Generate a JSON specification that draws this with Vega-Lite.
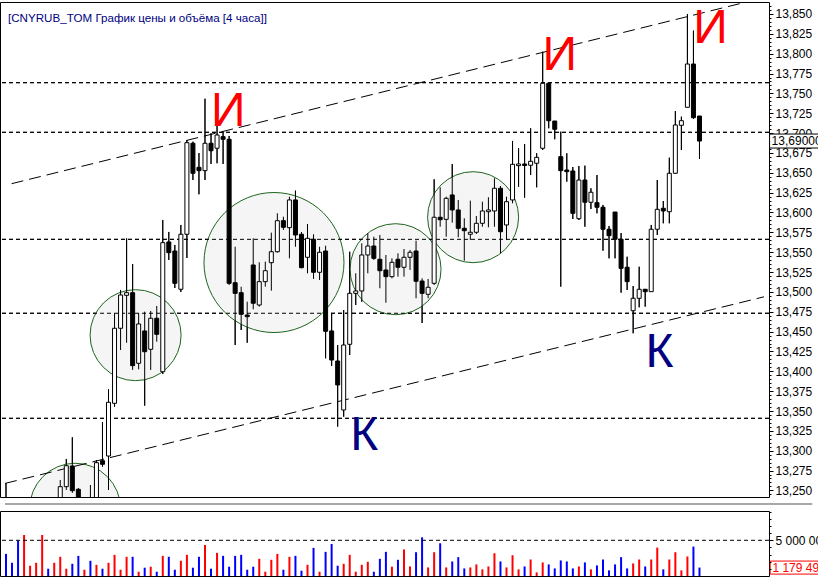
{
  "$schema": "https://vega.github.io/schema/vega-lite/v6.json",
  "autosize": {"type": "none"},
  "padding": {"left": 0, "top": 2, "right": 818, "bottom": 580},
  "background": "white",
  "config": {
    "locale": {"number": {"decimal": ",", "thousands": " ", "grouping": [3], "currency": ["", ""]}},
    "view": {"stroke": "black", "strokeWidth": 1},
    "axis": {"labelFont": "Liberation Sans", "labelFontSize": 12, "labelColor": "black", "tickColor": "black", "domain": false, "grid": false, "labelOverlap": false}
  },
  "datasets": {
    "candles": [
      {"i":0,"o":13.236,"h":13.259,"l":13.215,"c":13.222,"v":3100000},
      {"i":1,"o":13.225,"h":13.238,"l":13.205,"c":13.212,"v":1850000},
      {"i":2,"o":13.214,"h":13.230,"l":13.195,"c":13.200,"v":4950000},
      {"i":3,"o":13.200,"h":13.222,"l":13.192,"c":13.215,"v":5740000},
      {"i":4,"o":13.215,"h":13.232,"l":13.208,"c":13.222,"v":1440000},
      {"i":5,"o":13.222,"h":13.236,"l":13.212,"c":13.230,"v":1850000},
      {"i":6,"o":13.230,"h":13.240,"l":13.220,"c":13.236,"v":5740000},
      {"i":7,"o":13.236,"h":13.240,"l":13.215,"c":13.222,"v":1020000},
      {"i":8,"o":13.222,"h":13.238,"l":13.215,"c":13.234,"v":1850000},
      {"i":9,"o":13.236,"h":13.2631,"l":13.228,"c":13.2547,"v":2690000},
      {"i":10,"o":13.2547,"h":13.2896,"l":13.2505,"c":13.2811,"v":1020000},
      {"i":11,"o":13.2808,"h":13.3169,"l":13.2468,"c":13.2496,"v":1710000},
      {"i":12,"o":13.2514,"h":13.2531,"l":13.225,"c":13.232,"v":2820000},
      {"i":13,"o":13.228,"h":13.240,"l":13.222,"c":13.238,"v":880000},
      {"i":14,"o":13.238,"h":13.2568,"l":13.225,"c":13.232,"v":2130000},
      {"i":15,"o":13.232,"h":13.2883,"l":13.228,"c":13.2849,"v":1570000},
      {"i":16,"o":13.2874,"h":13.3362,"l":13.2799,"c":13.2829,"v":1020000},
      {"i":17,"o":13.2933,"h":13.3773,"l":13.2505,"c":13.3610,"v":1850000},
      {"i":18,"o":13.3597,"h":13.4731,"l":13.3554,"c":13.4542,"v":2960000},
      {"i":19,"o":13.4542,"h":13.5024,"l":13.4268,"c":13.4961,"v":880000},
      {"i":20,"o":13.4957,"h":13.5675,"l":13.4360,"c":13.4990,"v":2690000},
      {"i":21,"o":13.4990,"h":13.5351,"l":13.4017,"c":13.4071,"v":2690000},
      {"i":22,"o":13.4101,"h":13.4731,"l":13.4025,"c":13.4596,"v":600000},
      {"i":23,"o":13.4508,"h":13.4751,"l":13.3567,"c":13.4247,"v":1160000},
      {"i":24,"o":13.4277,"h":13.4760,"l":13.4017,"c":13.4668,"v":1300000},
      {"i":25,"o":13.4668,"h":13.4823,"l":13.4373,"c":13.4466,"v":600000},
      {"i":26,"o":13.3995,"h":13.5906,"l":13.3966,"c":13.5620,"v":2820000},
      {"i":27,"o":13.5629,"h":13.5755,"l":13.5402,"c":13.5494,"v":2690000},
      {"i":28,"o":13.5515,"h":13.5591,"l":13.5049,"c":13.5108,"v":880000},
      {"i":29,"o":13.5033,"h":13.5843,"l":13.4999,"c":13.5726,"v":2130000},
      {"i":30,"o":13.5726,"h":13.6913,"l":13.5427,"c":13.6879,"v":2960000},
      {"i":31,"o":13.6872,"h":13.6892,"l":13.6409,"c":13.6494,"v":1160000},
      {"i":32,"o":13.6569,"h":13.6749,"l":13.6229,"c":13.6527,"v":2690000},
      {"i":33,"o":13.6527,"h":13.7433,"l":13.6409,"c":13.6872,"v":4350000},
      {"i":34,"o":13.6872,"h":13.6998,"l":13.6611,"c":13.6778,"v":1020000},
      {"i":35,"o":13.6809,"h":13.7089,"l":13.6620,"c":13.6976,"v":3240000},
      {"i":36,"o":13.6955,"h":13.7018,"l":13.6611,"c":13.6922,"v":2820000},
      {"i":37,"o":13.6922,"h":13.6964,"l":13.5087,"c":13.5108,"v":1300000},
      {"i":38,"o":13.5116,"h":13.5569,"l":13.4331,"c":13.4982,"v":2820000},
      {"i":39,"o":13.4990,"h":13.5066,"l":13.4520,"c":13.4718,"v":2960000},
      {"i":40,"o":13.4709,"h":13.4877,"l":13.4360,"c":13.4688,"v":880000},
      {"i":41,"o":13.5339,"h":13.5675,"l":13.4781,"c":13.4857,"v":1300000},
      {"i":42,"o":13.4835,"h":13.5373,"l":13.4814,"c":13.5129,"v":2410000},
      {"i":43,"o":13.5129,"h":13.5381,"l":13.5066,"c":13.5267,"v":600000},
      {"i":44,"o":13.5368,"h":13.5746,"l":13.5015,"c":13.5506,"v":2270000},
      {"i":45,"o":13.5506,"h":13.5990,"l":13.5494,"c":13.5897,"v":3100000},
      {"i":46,"o":13.5897,"h":13.5947,"l":13.5780,"c":13.5814,"v":880000},
      {"i":47,"o":13.5809,"h":13.6199,"l":13.5423,"c":13.6158,"v":2690000},
      {"i":48,"o":13.6158,"h":13.6275,"l":13.5569,"c":13.5717,"v":2820000},
      {"i":49,"o":13.5726,"h":13.5755,"l":13.5297,"c":13.5305,"v":740000},
      {"i":50,"o":13.5436,"h":13.5855,"l":13.5234,"c":13.5675,"v":1570000},
      {"i":51,"o":13.5663,"h":13.5726,"l":13.5163,"c":13.5247,"v":3940000},
      {"i":52,"o":13.5247,"h":13.5569,"l":13.5150,"c":13.5499,"v":600000},
      {"i":53,"o":13.5515,"h":13.5582,"l":13.4164,"c":13.4504,"v":3380000},
      {"i":54,"o":13.4508,"h":13.4731,"l":13.4067,"c":13.4142,"v":4490000},
      {"i":55,"o":13.4130,"h":13.4331,"l":13.3303,"c":13.3828,"v":1440000},
      {"i":56,"o":13.3513,"h":13.4772,"l":13.3428,"c":13.4331,"v":1710000},
      {"i":57,"o":13.4340,"h":13.5506,"l":13.4205,"c":13.4982,"v":2960000},
      {"i":58,"o":13.4982,"h":13.5234,"l":13.4835,"c":13.5012,"v":600000},
      {"i":59,"o":13.5012,"h":13.5612,"l":13.4877,"c":13.5465,"v":1570000},
      {"i":60,"o":13.5465,"h":13.5738,"l":13.5234,"c":13.5578,"v":1990000},
      {"i":61,"o":13.5578,"h":13.5695,"l":13.5402,"c":13.5423,"v":600000},
      {"i":62,"o":13.5411,"h":13.5717,"l":13.5046,"c":13.5267,"v":2410000},
      {"i":63,"o":13.5276,"h":13.5465,"l":13.4864,"c":13.5192,"v":3380000},
      {"i":64,"o":13.5192,"h":13.5423,"l":13.5171,"c":13.5373,"v":1300000},
      {"i":65,"o":13.5411,"h":13.5486,"l":13.5192,"c":13.5310,"v":2270000},
      {"i":66,"o":13.5310,"h":13.5540,"l":13.5192,"c":13.5436,"v":3720000},
      {"i":67,"o":13.5436,"h":13.5528,"l":13.5276,"c":13.5499,"v":1340000},
      {"i":68,"o":13.5515,"h":13.5645,"l":13.4920,"c":13.5134,"v":3330000},
      {"i":69,"o":13.5137,"h":13.5171,"l":13.4608,"c":13.4982,"v":5420000},
      {"i":70,"o":13.4970,"h":13.5163,"l":13.4920,"c":13.5058,"v":1200000},
      {"i":71,"o":13.5108,"h":13.6418,"l":13.5087,"c":13.5940,"v":3330000},
      {"i":72,"o":13.5940,"h":13.6317,"l":13.5821,"c":13.5909,"v":4580000},
      {"i":73,"o":13.5914,"h":13.6199,"l":13.5695,"c":13.6179,"v":1200000},
      {"i":74,"o":13.6221,"h":13.6611,"l":13.5872,"c":13.6032,"v":2040000},
      {"i":75,"o":13.6032,"h":13.6158,"l":13.5688,"c":13.5801,"v":2640000},
      {"i":76,"o":13.5801,"h":13.5927,"l":13.5393,"c":13.5771,"v":1060000},
      {"i":77,"o":13.5726,"h":13.6149,"l":13.5654,"c":13.5751,"v":1200000},
      {"i":78,"o":13.5751,"h":13.5956,"l":13.5729,"c":13.5864,"v":1620000},
      {"i":79,"o":13.5864,"h":13.6136,"l":13.5821,"c":13.6019,"v":930000},
      {"i":80,"o":13.6010,"h":13.6192,"l":13.5814,"c":13.6032,"v":1340000},
      {"i":81,"o":13.6019,"h":13.6431,"l":13.5821,"c":13.6305,"v":3190000},
      {"i":82,"o":13.6305,"h":13.6334,"l":13.5486,"c":13.5758,"v":2040000},
      {"i":83,"o":13.5843,"h":13.6199,"l":13.5654,"c":13.6136,"v":1200000},
      {"i":84,"o":13.6158,"h":13.6901,"l":13.6116,"c":13.6607,"v":2920000},
      {"i":85,"o":13.6590,"h":13.6809,"l":13.6325,"c":13.6611,"v":930000},
      {"i":86,"o":13.6611,"h":13.6863,"l":13.6187,"c":13.6592,"v":1340000},
      {"i":87,"o":13.6595,"h":13.7061,"l":13.6472,"c":13.6645,"v":2310000},
      {"i":88,"o":13.6620,"h":13.6746,"l":13.6317,"c":13.6695,"v":510000},
      {"i":89,"o":13.6809,"h":13.8025,"l":13.6787,"c":13.7627,"v":1900000},
      {"i":90,"o":13.7627,"h":13.7627,"l":13.7061,"c":13.7156,"v":1620000},
      {"i":91,"o":13.7152,"h":13.7152,"l":13.6922,"c":13.7048,"v":1060000},
      {"i":92,"o":13.6703,"h":13.7018,"l":13.5066,"c":13.6527,"v":2180000},
      {"i":93,"o":13.6535,"h":13.6746,"l":13.6388,"c":13.6514,"v":2040000},
      {"i":94,"o":13.6523,"h":13.6573,"l":13.5918,"c":13.5990,"v":1060000},
      {"i":95,"o":13.5922,"h":13.6586,"l":13.5906,"c":13.6409,"v":1340000},
      {"i":96,"o":13.6409,"h":13.6590,"l":13.5821,"c":13.6129,"v":1900000},
      {"i":97,"o":13.6129,"h":13.6305,"l":13.6044,"c":13.6255,"v":930000},
      {"i":98,"o":13.6124,"h":13.6472,"l":13.5990,"c":13.6066,"v":1480000},
      {"i":99,"o":13.6066,"h":13.6095,"l":13.5519,"c":13.5789,"v":2310000},
      {"i":100,"o":13.5789,"h":13.5830,"l":13.5423,"c":13.5708,"v":790000},
      {"i":101,"o":13.6006,"h":13.6006,"l":13.5423,"c":13.5663,"v":1620000},
      {"i":102,"o":13.5663,"h":13.5742,"l":13.4990,"c":13.5297,"v":2640000},
      {"i":103,"o":13.5310,"h":13.5443,"l":13.5024,"c":13.5129,"v":1060000},
      {"i":104,"o":13.4763,"h":13.5074,"l":13.4479,"c":13.4920,"v":1760000},
      {"i":105,"o":13.4920,"h":13.5317,"l":13.4806,"c":13.5033,"v":2310000},
      {"i":106,"o":13.5033,"h":13.5037,"l":13.4814,"c":13.5003,"v":1340000},
      {"i":107,"o":13.5003,"h":13.5843,"l":13.5003,"c":13.5789,"v":2310000},
      {"i":108,"o":13.5789,"h":13.6409,"l":13.5717,"c":13.6040,"v":3980000},
      {"i":109,"o":13.6053,"h":13.6145,"l":13.5864,"c":13.6019,"v":930000},
      {"i":110,"o":13.6010,"h":13.6690,"l":13.5864,"c":13.6494,"v":2310000},
      {"i":111,"o":13.6494,"h":13.7278,"l":13.6485,"c":13.7102,"v":3330000},
      {"i":112,"o":13.7098,"h":13.7207,"l":13.6787,"c":13.7156,"v":790000},
      {"i":113,"o":13.7325,"h":13.8500,"l":13.7325,"c":13.7870,"v":2730000},
      {"i":114,"o":13.7870,"h":13.8290,"l":13.7178,"c":13.7194,"v":4120000},
      {"i":115,"o":13.7215,"h":13.7215,"l":13.6674,"c":13.6900,"v":1179490}
    ],
    "channels": [
      {"line":"u","i":0.933,"p":13.6363},
      {"line":"u","i":122.8,"p":13.8651},
      {"line":"l","i":-0.164,"p":13.2588},
      {"line":"l","i":125.7,"p":13.4938}
    ],
    "circles": [
      {"i":11.46,"p":13.2269,"k":"s"},
      {"i":21.49,"p":13.4455,"k":"s"},
      {"i":44.44,"p":13.5370,"k":"b"},
      {"i":64.60,"p":13.5286,"k":"s"},
      {"i":77.46,"p":13.5941,"k":"s"}
    ],
    "letters": [
      {"i":36.86,"p":13.7089,"t":"И"},
      {"i":91.85,"p":13.7795,"t":"И"},
      {"i":116.82,"p":13.8131,"t":"И"},
      {"i":59.41,"p":13.3009,"t":"К"},
      {"i":108.35,"p":13.4054,"t":"К"}
    ],
    "grids": [
      {"p":13.7635},{"p":13.7010},{"p":13.5662},{"p":13.4731},{"p":13.3408}
    ],
    "one": [{"k": 1}]
  },
  "spacing": 14,
  "bounds": "flush",
  "vconcat": [
    {
      "width": 769,
      "height": 495,
      "title": {
        "text": "[CNYRUB_TOM График цены и объёма [4 часа]]",
        "anchor": "start", "frame": "group", "orient": "top",
        "offset": -32, "dx": 8, "baseline": "alphabetic",
        "font": "Liberation Sans", "fontSize": 11.6, "fontWeight": "normal", "color": "#000080"
      },
      "resolve": {"axis": {"y": "independent"}},
      "layer": [
        {
          "data": {"name": "candles"},
          "mark": {"type": "rule", "color": "black", "strokeWidth": 1, "clip": true},
          "encoding": {
            "x": {"field": "i", "type": "quantitative", "scale": {"domain": [-0.164, 125.7], "nice": false, "zero": false}, "axis": null},
            "y": {
              "field": "l", "type": "quantitative", "title": null,
              "scale": {"domain": [13.2417, 13.8651], "nice": false, "zero": false},
              "axis": {
                "orient": "right",
                "zindex": 0,
                "values": [13.25,13.275,13.3,13.325,13.35,13.375,13.4,13.425,13.45,13.475,13.5,13.525,13.55,13.575,13.6,13.625,13.65,13.675,13.7,13.725,13.75,13.775,13.8,13.825,13.85],
                "format": ".3f",
                "tickSize": 4,
                "labelPadding": 2,
                "labelBaseline": "middle",
                "labelOverlap": false,
                "labelFlush": false
              }
            },
            "y2": {"field": "h"}
          }
        },
        {
          "data": {"name": "grids"},
          "mark": {"type": "rule", "color": "black", "strokeWidth": 1, "strokeDash": [4, 3]},
          "encoding": {
            "y": {
              "field": "p", "type": "quantitative", "title": null,
              "axis": {
                "orient": "right",
                "zindex": 0,
                "values": [13.245,13.255,13.26,13.265,13.27,13.28,13.285,13.29,13.295,13.305,13.31,13.315,13.32,13.33,13.335,13.34,13.345,13.355,13.36,13.365,13.37,13.38,13.385,13.39,13.395,13.405,13.41,13.415,13.42,13.43,13.435,13.44,13.445,13.455,13.46,13.465,13.47,13.48,13.485,13.49,13.495,13.505,13.51,13.515,13.52,13.53,13.535,13.54,13.545,13.555,13.56,13.565,13.57,13.58,13.585,13.59,13.595,13.605,13.61,13.615,13.62,13.63,13.635,13.64,13.645,13.655,13.66,13.665,13.67,13.68,13.685,13.69,13.695,13.705,13.71,13.715,13.72,13.73,13.735,13.74,13.745,13.755,13.76,13.765,13.77,13.78,13.785,13.79,13.795,13.805,13.81,13.815,13.82,13.83,13.835,13.84,13.845,13.855,13.86],
                "tickSize": 2,
                "labels": false
              }
            }
          }
        },
        {
          "data": {"name": "circles"},
          "mark": {"type": "point", "shape": "circle", "filled": true, "fill": "#f5f5f5", "stroke": "#1e641e", "strokeWidth": 1, "opacity": 1, "clip": true},
          "encoding": {
            "x": {"field": "i", "type": "quantitative"},
            "y": {"field": "p", "type": "quantitative", "title": null, "axis": null},
            "size": {"field": "k", "type": "ordinal", "scale": {"domain": ["s", "b"], "range": [8281, 19600]}, "legend": null}
          }
        },
        {
          "data": {"name": "grids"},
          "mark": {"type": "rule", "color": "black", "strokeWidth": 1, "strokeDash": [4, 3]},
          "encoding": {
            "y": {"field": "p", "type": "quantitative", "title": null, "axis": null}
          }
        },
        {
          "data": {"name": "channels"},
          "mark": {"type": "line", "color": "black", "strokeWidth": 1, "strokeDash": [12, 6], "clip": true},
          "encoding": {
            "x": {"field": "i", "type": "quantitative"},
            "y": {"field": "p", "type": "quantitative", "title": null, "axis": null},
            "detail": {"field": "line"}
          }
        },
        {
          "data": {"name": "candles"},
          "mark": {"type": "rule", "color": "black", "strokeWidth": 1, "clip": true},
          "encoding": {
            "x": {"field": "i", "type": "quantitative"},
            "y": {"field": "l", "type": "quantitative", "title": null, "axis": null},
            "y2": {"field": "h"}
          }
        },
        {
          "data": {"name": "candles"},
          "mark": {"type": "bar", "size": 4, "stroke": "black", "strokeWidth": 1, "clip": true},
          "encoding": {
            "x": {"field": "i", "type": "quantitative"},
            "y": {"field": "o", "type": "quantitative", "title": null, "axis": null},
            "y2": {"field": "c"},
            "fill": {"condition": {"test": "datum.c > datum.o", "value": "white"}, "value": "black"}
          }
        },
        {
          "data": {"name": "letters"},
          "mark": {"type": "text", "font": "Liberation Sans", "fontSize": 48, "align": "center", "baseline": "alphabetic"},
          "encoding": {
            "x": {"field": "i", "type": "quantitative"},
            "y": {"field": "p", "type": "quantitative", "title": null, "axis": null},
            "text": {"field": "t"},
            "color": {"field": "t", "type": "nominal", "scale": {"domain": ["И", "К"], "range": ["#ff0000", "#000080"]}, "legend": null}
          }
        },
        {
          "data": {"name": "candles"},
          "transform": [{"filter": "datum.i == 115"}],
          "mark": {"type": "point", "shape": "M -1 -0.233 L 1 -0.233 L 1 0.233 L -1 0.233 Z", "size": 3600, "filled": true, "fill": "white", "stroke": "black", "strokeWidth": 1, "opacity": 1},
          "encoding": {
            "x": {"datum": 131.6, "type": "quantitative"},
            "y": {"field": "c", "type": "quantitative", "title": null, "axis": null}
          }
        },
        {
          "data": {"name": "candles"},
          "transform": [{"filter": "datum.i == 115"}],
          "mark": {"type": "text", "align": "left", "baseline": "middle", "font": "Liberation Sans", "fontSize": 12, "color": "black"},
          "encoding": {
            "x": {"datum": 126.96, "type": "quantitative"},
            "y": {"field": "c", "type": "quantitative", "title": null, "axis": null},
            "text": {"field": "c", "type": "quantitative", "format": ".5f"}
          }
        }
      ]
    },
    {
      "width": 769,
      "height": 65,
      "resolve": {"axis": {"y": "independent"}},
      "layer": [
        {
          "data": {"name": "candles"},
          "mark": {"type": "bar", "size": 2},
          "encoding": {
            "x": {"field": "i", "type": "quantitative", "scale": {"domain": [-0.164, 125.7], "nice": false, "zero": false}, "axis": null},
            "y": {
              "field": "v", "type": "quantitative", "title": null,
              "scale": {"domain": [0, 9104000], "nice": false, "zero": false},
              "axis": {
                "orient": "right",
                "zindex": 1,
                "values": [5000000],
                "format": ",d",
                "tickSize": 4,
                "labelPadding": 2,
                "labelBaseline": "middle",
                "labelOverlap": false,
                "labelFlush": false
              }
            },
            "color": {"condition": {"test": "datum.c > datum.o", "value": "#ff0000"}, "value": "#0000ff"}
          }
        },
        {
          "data": {"name": "one"},
          "mark": {"type": "rule", "color": "black", "strokeWidth": 1, "strokeDash": [4, 3]},
          "encoding": {
            "y": {
              "datum": 5000000, "type": "quantitative", "title": null,
              "axis": {
                "orient": "right",
                "zindex": 1,
                "values": [1000000, 2000000, 3000000, 4000000, 6000000, 7000000, 8000000, 9000000],
                "tickSize": 2,
                "labels": false
              }
            }
          }
        },
        {
          "data": {"name": "one"},
          "mark": {"type": "rule", "color": "#a8a8a8", "strokeWidth": 2},
          "encoding": {
            "x": {"datum": -0.164, "type": "quantitative"},
            "x2": {"datum": 133.7},
            "y": {"datum": 10080000, "type": "quantitative", "title": null, "axis": null}
          }
        },
        {
          "data": {"name": "candles"},
          "transform": [{"filter": "datum.i == 115"}],
          "mark": {"type": "point", "shape": "M -1 -0.217 L 1 -0.217 L 1 0.217 L -1 0.217 Z", "size": 3600, "filled": true, "fill": "white", "stroke": "#ff0000", "strokeWidth": 1, "opacity": 1},
          "encoding": {
            "x": {"datum": 131.7, "type": "quantitative"},
            "y": {"field": "v", "type": "quantitative", "title": null, "axis": null}
          }
        },
        {
          "data": {"name": "candles"},
          "transform": [{"filter": "datum.i == 115"}],
          "mark": {"type": "text", "align": "left", "baseline": "middle", "font": "Liberation Sans", "fontSize": 12, "color": "#ff0000"},
          "encoding": {
            "x": {"datum": 127.1, "type": "quantitative"},
            "y": {"field": "v", "type": "quantitative", "title": null, "axis": null},
            "text": {"field": "v", "type": "quantitative", "format": ",d"}
          }
        }
      ]
    }
  ]
}
